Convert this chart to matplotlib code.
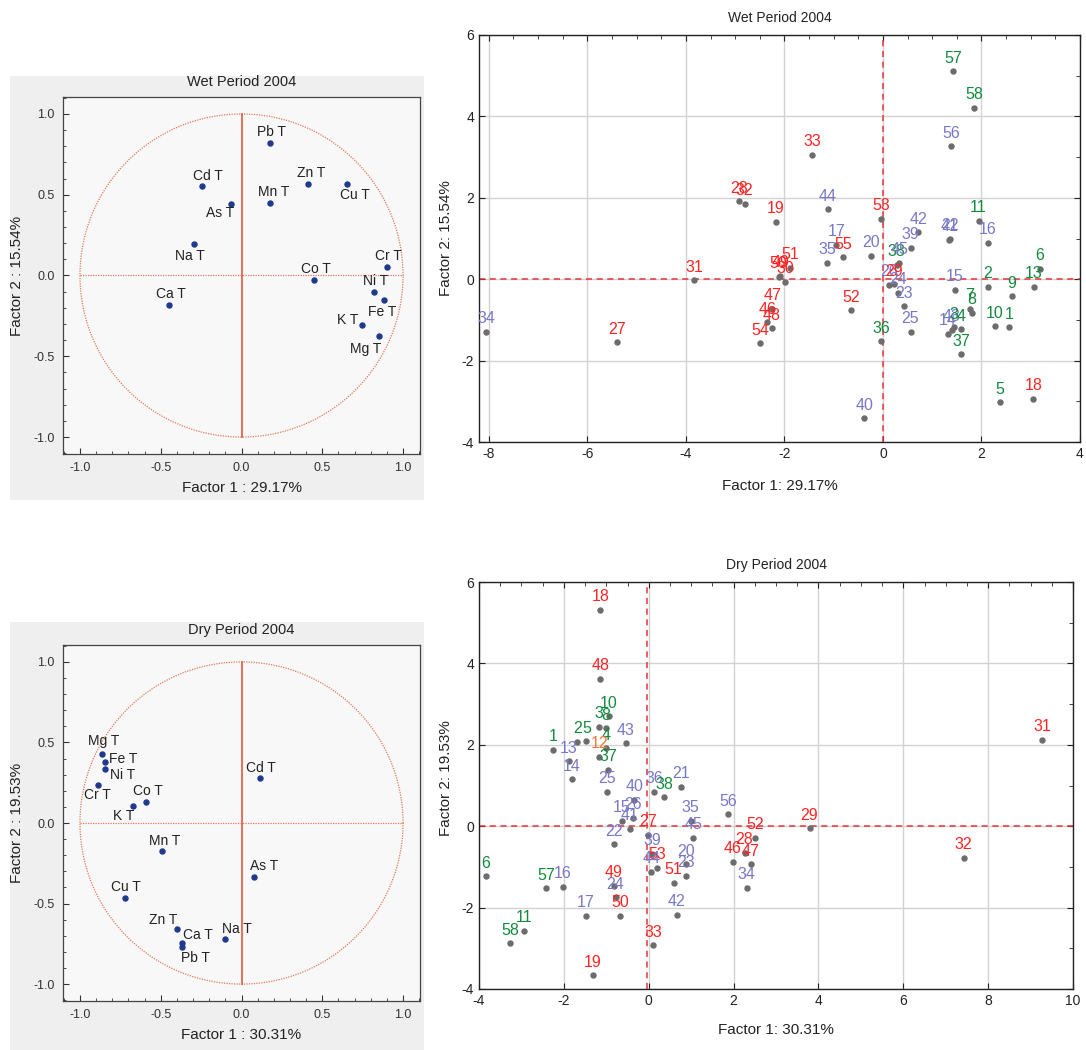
import numpy as np
import matplotlib
matplotlib.use('Agg')
import matplotlib.pyplot as plt
from matplotlib.patches import Rectangle
from matplotlib.ticker import MultipleLocator

plt.rcParams['font.family'] = ['Liberation Sans', 'DejaVu Sans']
plt.rcParams['axes.unicode_minus'] = False

# ---- loadings (circle plots) ----
wet_vars = ['Pb T', 'Cd T', 'As T', 'Zn T', 'Cu T', 'Mn T', 'Na T', 'Ca T',
            'Co T', 'Cr T', 'Ni T', 'Fe T', 'K T', 'Mg T']
wet_l1 = [0.178, -0.244, -0.068, 0.414, 0.650, 0.178, -0.295, -0.449,
          0.451, 0.902, 0.820, 0.881, 0.744, 0.850]
wet_l2 = [0.823, 0.557, 0.440, 0.567, 0.567, 0.450, 0.194, -0.184,
          -0.027, 0.055, -0.102, -0.154, -0.309, -0.375]

dry_vars = ['Mg T', 'Fe T', 'Ni T', 'Cr T', 'Co T', 'K T', 'Cd T', 'Mn T',
            'As T', 'Cu T', 'Zn T', 'Ca T', 'Pb T', 'Na T']
dry_l1 = [-0.861, -0.842, -0.842, -0.891, -0.592, -0.672, 0.113, -0.494,
          0.078, -0.719, -0.402, -0.367, -0.367, -0.102]
dry_l2 = [0.429, 0.377, 0.336, 0.236, 0.133, 0.103, 0.277, -0.176,
          -0.334, -0.468, -0.658, -0.747, -0.771, -0.718]

# ---- scores (case plots) ----
wet_ids = [57, 58, 56, 33, 28, 32, 19, 44, 53, 11, 42, 22, 41, 16, 39, 17, 55,
           35, 20, 38, 45, 51, 50, 49, 30, 31, 26, 29, 24, 23, 25, 52, 36, 47,
           46, 48, 54, 27, 34, 40, 6, 13, 2, 9, 15, 7, 8, 10, 1, 14, 43, 3, 4,
           37, 5, 18]
wet_f1 = [1.43, 1.85, 1.38, -1.44, -2.92, -2.81, -2.17, -1.12, -0.03, 1.94,
          0.72, 1.37, 1.35, 2.13, 0.56, -0.95, -0.81, -1.13, -0.24, 0.28, 0.33,
          -1.89, -2.12, -2.08, -1.98, -3.83, 0.12, 0.22, 0.31, 0.43, 0.56,
          -0.64, -0.04, -2.25, -2.35, -2.25, -2.49, -5.39, -8.05, -0.38, 3.19,
          3.06, 2.13, 2.61, 1.46, 1.76, 1.81, 2.27, 2.56, 1.32, 1.40, 1.44,
          1.59, 1.59, 2.38, 3.05]
wet_f2 = [5.11, 4.21, 3.27, 3.06, 1.91, 1.85, 1.41, 1.72, 1.49, 1.44, 1.15,
          0.99, 0.97, 0.89, 0.77, 0.84, 0.54, 0.40, 0.57, 0.35, 0.41, 0.28,
          0.06, 0.08, -0.07, -0.03, -0.14, -0.12, -0.33, -0.66, -1.29, -0.76,
          -1.52, -0.72, -1.06, -1.21, -1.57, -1.55, -1.29, -3.42, 0.25, -0.19,
          -0.19, -0.42, -0.26, -0.73, -0.83, -1.16, -1.18, -1.34, -1.24, -1.18,
          -1.23, -1.84, -3.02, -2.94]
wet_grp = ['g', 'g', 'p', 'r', 'r', 'r', 'r', 'p', 'r', 'g', 'p', 'p', 'p', 'p',
           'p', 'p', 'r', 'p', 'p', 'g', 'p', 'r', 'r', 'r', 'r', 'r', 'p', 'r',
           'p', 'p', 'p', 'r', 'g', 'r', 'r', 'r', 'r', 'r', 'p', 'p', 'g', 'g',
           'g', 'g', 'p', 'g', 'g', 'g', 'g', 'p', 'p', 'g', 'g', 'g', 'g', 'r']

dry_ids = [18, 48, 10, 3, 8, 2, 5, 1, 4, 12, 37, 13, 14, 43, 25, 40, 36, 38,
           21, 56, 35, 45, 15, 26, 41, 22, 27, 39, 53, 44, 20, 23, 51, 46, 28,
           47, 52, 34, 49, 24, 6, 57, 16, 11, 58, 17, 50, 42, 33, 19, 29, 32, 31]
dry_f1 = [-1.14, -1.14, -0.94, -1.18, -1.01, -1.68, -1.47, -2.26, -1.00, -1.16,
          -0.95, -1.88, -1.81, -0.54, -0.99, -0.34, 0.13, 0.36, 0.77, 1.87,
          0.99, 1.05, -0.64, -0.37, -0.45, -0.82, -0.01, 0.08, 0.19, 0.06,
          0.89, 0.89, 0.59, 1.98, 2.26, 2.40, 2.50, 2.31, -0.82, -0.78, -3.84,
          -2.41, -2.03, -2.93, -3.26, -1.48, -0.68, 0.66, 0.11, -1.32, 3.79,
          7.42, 9.28]
dry_f2 = [5.32, 3.62, 2.70, 2.44, 2.41, 2.07, 2.09, 1.88, 1.91, 1.70, 1.38,
          1.60, 1.15, 2.04, 0.85, 0.65, 0.85, 0.71, 0.97, 0.29, 0.13, -0.29,
          0.14, 0.21, -0.07, -0.44, -0.21, -0.68, -1.02, -1.12, -0.94, -1.22,
          -1.39, -0.88, -0.65, -0.94, -0.29, -1.51, -1.46, -1.75, -1.23, -1.52,
          -1.49, -2.57, -2.88, -2.20, -2.20, -2.17, -2.93, -3.66, -0.05, -0.78,
          2.12]
dry_grp = ['r', 'r', 'g', 'g', 'g', 'g', 'g', 'g', 'g', 'o', 'g', 'p', 'p', 'p',
           'p', 'p', 'p', 'g', 'p', 'p', 'p', 'p', 'p', 'p', 'p', 'p', 'r', 'p',
           'r', 'p', 'p', 'p', 'r', 'r', 'r', 'r', 'r', 'p', 'r', 'p', 'g', 'g',
           'p', 'g', 'g', 'p', 'r', 'p', 'r', 'r', 'r', 'r', 'r']

grp_colors = {'r': '#ff2424', 'g': '#138a3c', 'p': '#7878c8', 'o': '#f27a3a'}

W, H = 1086, 1050
fig = plt.figure(figsize=(W / 100, H / 100), dpi=100)
fig.patch.set_facecolor('white')


def box(l, t, r, b):
    return [l / W, 1 - b / H, (r - l) / W, (b - t) / H]


def loading_plot(rect, panel, title, xlab, ylab, names, l1, l2, offs):
    fig.patches.append(Rectangle((panel[0] / W, 1 - panel[3] / H),
                                 (panel[2] - panel[0]) / W, (panel[3] - panel[1]) / H,
                                 transform=fig.transFigure, facecolor='#efefef',
                                 edgecolor='none', zorder=-5))
    ax = fig.add_axes(box(*rect))
    ax.set_facecolor('#f8f8f8')
    ax.set_xlim(-1.105, 1.105)
    ax.set_ylim(-1.105, 1.105)
    t = np.linspace(0, 2 * np.pi, 500)
    ax.plot(np.cos(t), np.sin(t), ls=(0, (1, 1)), color='#e07a5a', lw=0.9)
    ax.plot([-1, 1], [0, 0], ls=(0, (1, 1)), color='#e07a5a', lw=0.9)
    ax.plot([0, 0], [-1, 1], color='#e2654a', lw=1.3)
    ax.plot(l1, l2, 'o', color='#1f3a8a', ms=3.6, zorder=3)
    for n, x, y, (dx, dy) in zip(names, l1, l2, offs):
        ax.annotate(n, (x, y), xytext=(dx, -dy), textcoords='offset pixels',
                    ha='center', va='center', fontsize=10, color='#222222')
    ticks = [-1.0, -0.5, 0.0, 0.5, 1.0]
    ax.set_xticks(ticks)
    ax.set_yticks(ticks)
    ax.set_xticklabels([f'{v:.1f}' for v in ticks])
    ax.set_yticklabels([f'{v:.1f}' for v in ticks])
    ax.xaxis.set_minor_locator(MultipleLocator(0.1))
    ax.yaxis.set_minor_locator(MultipleLocator(0.1))
    ax.tick_params(which='both', direction='in', top=False, right=False,
                   labelsize=9, colors='#333333', pad=6)
    ax.tick_params(which='major', length=4)
    ax.tick_params(which='minor', length=2)
    for s in ax.spines.values():
        s.set_color('#444444')
        s.set_linewidth(0.9)
    cx = (rect[0] + rect[2]) / 2
    fig.text(cx / W, 1 - (rect[1] - 15) / H, title, ha='center', va='center',
             fontsize=10.5, color='#222222')
    fig.text(cx / W, 1 - (rect[3] + 34) / H, xlab, ha='center', va='center',
             fontsize=11, color='#222222')
    fig.text(17 / W, 1 - ((rect[1] + rect[3]) / 2) / H, ylab, ha='center',
             va='center', rotation=90, fontsize=11, color='#222222')


def score_plot(rect, title, xlab, ylab, ids, f1, f2, grp, xlim, ylim, xticks,
               vline, title_y, xlab_y, ylab_y):
    ax = fig.add_axes(box(*rect))
    ax.set_xlim(xlim)
    ax.set_ylim(ylim)
    ax.set_xticks(xticks)
    ax.set_yticks(np.arange(ylim[0], ylim[1] + 1, 2))
    ax.grid(True, color='#d2d2d2', lw=1.0)
    ax.set_axisbelow(True)
    ax.axhline(0, color='#e8343a', ls=(0, (4, 3)), lw=1.1, zorder=2)
    ax.axvline(vline, color='#e8343a', ls=(0, (4, 3)), lw=1.1, zorder=2)
    ax.plot(f1, f2, 'o', color='#6c6c6c', ms=3.6, zorder=3)
    for i, x, y, g in zip(ids, f1, f2, grp):
        ax.annotate(str(i), (x, y), xytext=(0, 4), textcoords='offset points',
                    ha='center', va='bottom', fontsize=11.5,
                    color=grp_colors[g], zorder=4)
    ax.xaxis.set_minor_locator(MultipleLocator(0.5))
    ax.yaxis.set_minor_locator(MultipleLocator(1))
    ax.tick_params(which='both', direction='in', top=True, right=True,
                   labelsize=10, colors='#222222')
    ax.tick_params(which='major', length=4)
    ax.tick_params(which='minor', length=3, bottom=False, left=False)
    for s in ax.spines.values():
        s.set_color('#222222')
        s.set_linewidth(1.0)
    cx = (rect[0] + rect[2]) / 2
    fig.text(cx / W, 1 - title_y / H, title, ha='center', va='center',
             fontsize=10, color='#222222')
    fig.text(cx / W, 1 - xlab_y / H, xlab, ha='center', va='center',
             fontsize=11, color='#222222')
    fig.text(446 / W, 1 - ylab_y / H, ylab, ha='center', va='center',
             rotation=90, fontsize=11, color='#222222')


wet_offs = [(1, -11), (6, -10), (-10, 9), (3, -11), (8, 11), (3, -11), (-4, 12),
            (2, -11), (2, -11), (1, -11), (2, -11), (-2, 12), (-14, -5), (-13, 13)]
dry_offs = [(1, -13), (18, -3), (17, 6), (0, 10), (2, -11), (-9, 10), (1, -10),
            (3, -10), (10, -11), (1, -11), (-13, -9), (16, -8), (13, 11), (12, -10)]

loading_plot((63, 97, 420, 454), (10, 76, 424, 500), 'Wet Period 2004',
             'Factor 1 : 29.17%', 'Factor 2 : 15.54%', wet_vars, wet_l1, wet_l2,
             wet_offs)
loading_plot((63, 645, 420, 1001), (10, 622, 424, 1050), 'Dry Period 2004',
             'Factor 1 : 30.31%', 'Factor 2 : 19.53%', dry_vars, dry_l1, dry_l2,
             dry_offs)

score_plot((479, 35, 1080, 442), 'Wet Period 2004', 'Factor 1: 29.17%',
           'Factor 2: 15.54%', wet_ids, wet_f1, wet_f2, wet_grp, (-8.2, 4.0),
           (-4, 6), [-8, -6, -4, -2, 0, 2, 4], 0.0, 18, 486, 238)
score_plot((479, 582, 1073, 989), 'Dry Period 2004', 'Factor 1: 30.31%',
           'Factor 2: 19.53%', dry_ids, dry_f1, dry_f2, dry_grp, (-4, 10),
           (-4, 6), [-4, -2, 0, 2, 4, 6, 8, 10], -0.04, 565, 1030, 778)

fig.savefig('out.png', dpi=100)
